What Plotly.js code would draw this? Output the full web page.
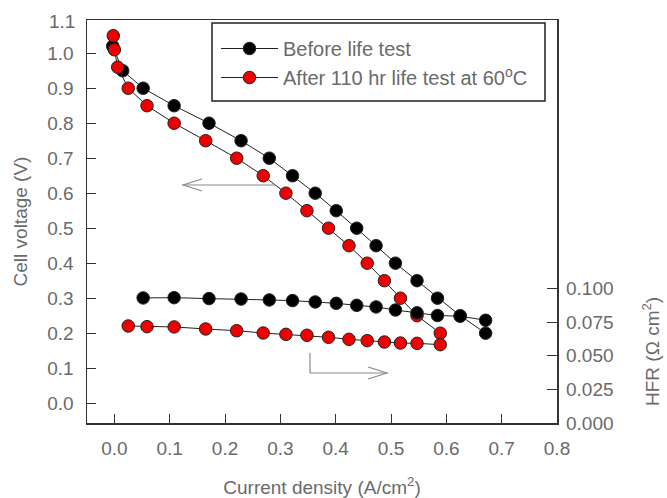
<!DOCTYPE html>
<html>
<head>
<meta charset="utf-8">
<script src="https://cdn.plot.ly/plotly-3.0.1.min.js"></script>
<style>html,body{margin:0;padding:0;background:#fff;}#chart{width:667px;height:498px;}</style>
</head>
<body>
<div id="chart"></div>
<script>
// Polarization curves (cell voltage vs current density)
var beforeX = [-0.003, 0.015, 0.052, 0.108, 0.171, 0.229, 0.280, 0.322, 0.363, 0.401, 0.438, 0.473, 0.508, 0.547, 0.584, 0.625, 0.671];
var beforeV = [1.02, 0.95, 0.90, 0.85, 0.80, 0.75, 0.70, 0.65, 0.60, 0.55, 0.50, 0.45, 0.40, 0.35, 0.30, 0.25, 0.20];
var afterX = [-0.002, 0.000, 0.006, 0.025, 0.059, 0.108, 0.165, 0.221, 0.269, 0.310, 0.348, 0.387, 0.424, 0.457, 0.488, 0.517, 0.547, 0.589];
var afterV = [1.05, 1.01, 0.96, 0.90, 0.85, 0.80, 0.75, 0.70, 0.65, 0.60, 0.55, 0.50, 0.45, 0.40, 0.35, 0.30, 0.25, 0.20];
// HFR curves
var beforeHfrX = [0.052, 0.108, 0.171, 0.229, 0.280, 0.322, 0.363, 0.401, 0.438, 0.473, 0.508, 0.547, 0.584, 0.625, 0.671];
var beforeHfr = [0.0931, 0.0933, 0.0926, 0.0923, 0.0916, 0.0911, 0.0901, 0.0891, 0.0876, 0.0864, 0.0841, 0.0820, 0.0800, 0.0795, 0.0765];
var afterHfrX = [0.025, 0.059, 0.108, 0.165, 0.221, 0.269, 0.310, 0.348, 0.387, 0.424, 0.457, 0.488, 0.517, 0.547, 0.589];
var afterHfr = [0.0722, 0.0717, 0.0715, 0.0700, 0.0687, 0.0670, 0.0660, 0.0653, 0.0638, 0.0623, 0.0613, 0.0603, 0.0595, 0.0593, 0.0583];
// Labels / ticks
var legendNames = ['Before life test', 'After 110 hr life test at 60<sup>o</sup>C'];
var xTicks = [0, 0.1, 0.2, 0.3, 0.4, 0.5, 0.6, 0.7, 0.8];
var yTicks = [0, 0.1, 0.2, 0.3, 0.4, 0.5, 0.6, 0.7, 0.8, 0.9, 1.0];
var y2Ticks = [0, 0.025, 0.05, 0.075, 0.1];

var FONT = 'Liberation Sans, Arial, sans-serif';
var GRAY = '#6a6a6a';
var LINEC = '#222';
var RED = '#ee0000';

function tr(x, y, color, name, show, axis) {
  return {
    x: x, y: y, type: 'scatter', mode: 'lines+markers', name: name, showlegend: show,
    yaxis: axis,
    line: {color: LINEC, width: 1},
    marker: {size: 12.5, color: color, line: {color: '#222', width: 1}}
  };
}

var data = [
  tr(beforeHfrX, beforeHfr, '#000', legendNames[0], false, 'y2'),
  tr(afterHfrX, afterHfr, RED, legendNames[1], false, 'y2'),
  tr(beforeX, beforeV, '#000', legendNames[0], true, 'y'),
  tr(afterX, afterV, RED, legendNames[1], true, 'y')
];

// pixel -> paper helpers for decorations
var L = 87, R = 557, T = 20, B = 423;
function px(x) { return (x - L) / (R - L); }
function py(y) { return (B - y) / (B - T); }

var layout = {
  width: 667, height: 498,
  margin: {l: L, r: 667 - R, t: T, b: 498 - B},
  paper_bgcolor: '#fff', plot_bgcolor: '#fff',
  font: {family: FONT, size: 19, color: GRAY},
  showlegend: true,
  legend: {
    x: px(216), y: py(29), xanchor: 'left', yanchor: 'top',
    bgcolor: 'rgba(0,0,0,0)', borderwidth: 0,
    font: {family: FONT, size: 20, color: GRAY},
    itemwidth: 57, tracegroupgap: 0
  },
  xaxis: {
    range: [-0.0495, 0.8], tickvals: xTicks, tickformat: '.1f',
    ticks: 'inside', ticklen: 9, tickcolor: '#333', tickwidth: 1,
    showline: true, linecolor: '#333', linewidth: 1.5, mirror: true,
    showgrid: false, zeroline: false,
    ticklabelstandoff: 8,
    title: {text: 'Current density (A/cm<sup>2</sup>)', font: {family: FONT, size: 19, color: GRAY}, standoff: 22}
  },
  yaxis: {
    range: [-0.0566, 1.0949], tickvals: yTicks, tickformat: '.1f',
    ticks: 'inside', ticklen: 9, tickcolor: '#333', tickwidth: 1,
    showline: true, linecolor: '#333', linewidth: 1.5, mirror: true,
    showgrid: false, zeroline: false,
    ticklabelstandoff: 8,
    title: {text: 'Cell voltage (V)', font: {family: FONT, size: 19, color: GRAY}, standoff: 14}
  },
  yaxis2: {
    overlaying: 'y', side: 'right', range: [0, 0.3], tickvals: y2Ticks, tickformat: '.3f',
    ticks: 'inside', ticklen: 10, tickcolor: '#333', tickwidth: 1,
    showline: false, showgrid: false, zeroline: false,
    ticklabelstandoff: 8
  },
  shapes: [
    // legend box
    {type: 'rect', xref: 'paper', yref: 'paper', x0: px(212), x1: px(545), y0: py(101), y1: py(23),
     line: {color: '#222', width: 1.5}, fillcolor: '#fff', layer: 'below'},
    // left arrow (polarization -> left axis)
    {type: 'path', xref: 'paper', yref: 'paper',
     path: 'M' + px(275) + ',' + py(185) + ' L' + px(183) + ',' + py(185),
     line: {color: '#8a8a8a', width: 1.2}},
    {type: 'path', xref: 'paper', yref: 'paper',
     path: 'M' + px(202) + ',' + py(179) + ' L' + px(183) + ',' + py(185) + ' L' + px(202) + ',' + py(191),
     line: {color: '#8a8a8a', width: 1.2}},
    // right arrow (HFR -> right axis)
    {type: 'path', xref: 'paper', yref: 'paper',
     path: 'M' + px(310) + ',' + py(353) + ' L' + px(310) + ',' + py(373) + ' L' + px(387) + ',' + py(373),
     line: {color: '#8a8a8a', width: 1.2}},
    {type: 'path', xref: 'paper', yref: 'paper',
     path: 'M' + px(368) + ',' + py(367) + ' L' + px(387) + ',' + py(373) + ' L' + px(368) + ',' + py(379),
     line: {color: '#8a8a8a', width: 1.2}}
  ],
  annotations: [
    {text: '1.1', xref: 'paper', yref: 'paper', x: px(77), y: py(21), xanchor: 'right', yanchor: 'middle',
     showarrow: false, font: {family: FONT, size: 19, color: GRAY}},
    {text: 'HFR (&#937; cm<sup>2</sup>)', xref: 'paper', yref: 'paper', x: px(651), y: py(352),
     xanchor: 'center', yanchor: 'middle', textangle: -90, showarrow: false,
     font: {family: FONT, size: 19, color: GRAY}}
  ]
};

Plotly.newPlot('chart', data, layout, {displayModeBar: false, staticPlot: true});
</script>
</body>
</html>
